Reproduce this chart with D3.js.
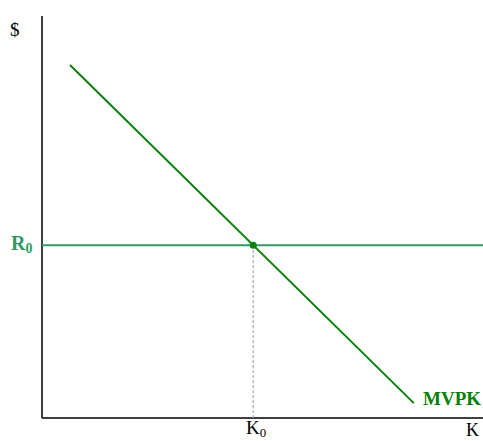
<!DOCTYPE html>
<html><head><meta charset="utf-8">
<script src="https://cdn.jsdelivr.net/npm/d3@7"></script>
<style>body{margin:0;background:#fff}svg{display:block}</style>
</head><body>
<script>
// Data
const mvpkX = [0.636, 8.45];
const mvpkY = [8.78, 0.37];
const rate = [4.3];          // R0 level
const k0 = [4.8];            // K0 quantity
const labels = {y: "$", x: "K", r: "R", k: "K", curve: "MVPK"};

const W = 483, H = 441;
const svg = d3.select("body").append("svg").attr("width", W).attr("height", H)
  .style("font-family", "'Liberation Serif','Times New Roman',serif");

const x = d3.scaleLinear().domain([0, 10]).range([42, 482]);
const y = d3.scaleLinear().domain([0, 10]).range([418, 16]);

// axes
svg.append("line").attr("x1", x(0)).attr("x2", x(0)).attr("y1", y(10)).attr("y2", y(0))
  .attr("stroke", "#000").attr("stroke-width", 1.5);
svg.append("line").attr("x1", x(0)).attr("x2", W).attr("y1", y(0)).attr("y2", y(0))
  .attr("stroke", "#000").attr("stroke-width", 1.5);

// dashed guide
svg.append("line").attr("x1", x(k0[0])).attr("x2", x(k0[0])).attr("y1", y(rate[0])).attr("y2", y(0))
  .attr("stroke", "#999").attr("stroke-width", 1).attr("stroke-dasharray", "3,2");

// R0 line
svg.append("line").attr("x1", x(0)).attr("x2", W).attr("y1", y(rate[0])).attr("y2", y(rate[0]))
  .attr("stroke", "#339966").attr("stroke-width", 2);

// MVPK
const pts = mvpkX.map((d, i) => [d, mvpkY[i]]);
svg.append("path").attr("d", d3.line().x(d => x(d[0])).y(d => y(d[1]))(pts))
  .attr("fill", "none").attr("stroke", "#0a800a").attr("stroke-width", 2);

// point
svg.append("circle").attr("cx", x(k0[0])).attr("cy", y(rate[0])).attr("r", 3.5).attr("fill", "#0a800a");

// labels
svg.append("text").attr("x", 10).attr("y", 36).attr("font-size", 19).text(labels.y);

const r = svg.append("text").attr("x", 11).attr("y", 250).attr("font-size", 20)
  .attr("font-weight", "bold").attr("fill", "#339966");
r.append("tspan").text(labels.r);
r.append("tspan").attr("font-size", 14).attr("dy", 3).text("0");

const k = svg.append("text").attr("x", 246).attr("y", 434).attr("font-size", 19);
k.append("tspan").text(labels.k);
k.append("tspan").attr("font-size", 13).attr("dy", 3).text("0");

svg.append("text").attr("x", 466).attr("y", 436).attr("font-size", 18).text(labels.x);

svg.append("text").attr("x", 423).attr("y", 405).attr("font-size", 19)
  .attr("font-weight", "bold").attr("fill", "#0a800a").text(labels.curve);
</script>
</body></html>
